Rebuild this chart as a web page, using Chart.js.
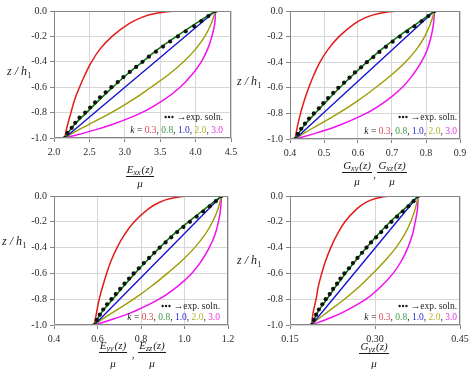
<!DOCTYPE html>
<html><head><meta charset="utf-8">
<script src="https://cdn.jsdelivr.net/npm/chart.js@4.4.0/dist/chart.umd.min.js"></script>
<style>
html,body{margin:0;padding:0;background:#fff;}
#wrap{position:relative;width:474px;height:378px;overflow:hidden;}
.p{position:absolute;width:237px;height:189px;}
</style></head><body>
<div id="wrap">
<div class="p" style="left:0;top:0"><canvas id="c1" width="237" height="189"></canvas></div>
<div class="p" style="left:237px;top:0"><canvas id="c2" width="237" height="189"></canvas></div>
<div class="p" style="left:0;top:189px"><canvas id="c3" width="237" height="189"></canvas></div>
<div class="p" style="left:237px;top:189px"><canvas id="c4" width="237" height="189"></canvas></div>
</div>
<script>
// ---- shared z / h1 levels (y values) ----
const zRed   = [-1,-0.9,-0.8,-0.7,-0.6,-0.5,-0.4,-0.3,-0.2,-0.1,-0.05,-0.02,0,0];
const zGreen = [-1,-0.9,-0.8,-0.7,-0.6,-0.5,-0.4,-0.3,-0.2,-0.1,0];
const zBlue  = [-1,0];
const zHigh  = [-1,-0.95,-0.9,-0.8,-0.7,-0.6,-0.5,-0.4,-0.3,-0.2,-0.1,0];
const zExp   = [-1,-0.96,-0.92,-0.88,-0.84,-0.8,-0.76,-0.72,-0.68,-0.64,-0.6,-0.56,-0.52,-0.48,-0.44,-0.4,-0.36,-0.32,-0.28,-0.24,-0.2,-0.16,-0.12,-0.08,-0.04,0];

// ---- panel 1: Exx(z)/mu ----
const exx_k03 = [2.15,2.19,2.24,2.29,2.36,2.44,2.53,2.65,2.82,3.06,3.24,3.43,3.73,4.28];
const exx_k08 = [2.15,2.28,2.46,2.64,2.83,3.03,3.25,3.47,3.73,4.00,4.28];
const exx_k10 = [2.15,4.28];
const exx_k20 = [2.15,2.30,2.47,2.81,3.11,3.37,3.62,3.83,4.00,4.13,4.22,4.28];
const exx_k30 = [2.15,2.49,2.79,3.24,3.55,3.78,3.95,4.08,4.17,4.23,4.27,4.28];
const exx_exp = [2.15,2.19,2.25,2.30,2.36,2.44,2.51,2.58,2.65,2.73,2.81,2.90,2.98,3.07,3.16,3.25,3.34,3.44,3.54,3.64,3.75,3.86,3.98,4.08,4.18,4.28];

// ---- panel 2: Gxy(z)/mu, Gxz(z)/mu ----
const gxy_k03 = [0.415,0.422,0.431,0.442,0.455,0.470,0.488,0.512,0.544,0.589,0.624,0.661,0.718,0.825];
const gxy_k08 = [0.415,0.440,0.474,0.509,0.546,0.585,0.626,0.669,0.718,0.772,0.825];
const gxy_k10 = [0.415,0.825];
const gxy_k20 = [0.415,0.444,0.477,0.542,0.600,0.651,0.698,0.739,0.772,0.796,0.813,0.825];
const gxy_k30 = [0.415,0.481,0.538,0.624,0.684,0.729,0.761,0.786,0.804,0.815,0.822,0.825];
const gxy_exp = [0.415,0.423,0.433,0.444,0.456,0.470,0.485,0.498,0.512,0.527,0.542,0.559,0.575,0.591,0.609,0.626,0.645,0.663,0.682,0.702,0.723,0.745,0.766,0.787,0.807,0.825];

// ---- panel 3: Eyy(z)/mu, Ezz(z)/mu ----
const eyy_k03 = [0.585,0.596,0.608,0.624,0.642,0.663,0.690,0.724,0.769,0.834,0.883,0.936,1.018,1.17];
const eyy_k08 = [0.585,0.620,0.670,0.720,0.772,0.828,0.886,0.948,1.018,1.094,1.17];
const eyy_k10 = [0.585,1.17];
const eyy_k20 = [0.585,0.626,0.673,0.766,0.848,0.921,0.989,1.047,1.094,1.129,1.154,1.17];
const eyy_k30 = [0.585,0.679,0.761,0.883,0.968,1.033,1.079,1.114,1.140,1.156,1.166,1.17];
const eyy_exp = [0.585,0.597,0.611,0.626,0.644,0.664,0.684,0.704,0.724,0.745,0.766,0.790,0.813,0.837,0.861,0.886,0.913,0.939,0.966,0.995,1.025,1.056,1.086,1.116,1.144,1.17];

// ---- panel 4: Gyz(z)/mu ----
const gyz_k03 = [0.188,0.191,0.196,0.200,0.206,0.213,0.222,0.233,0.247,0.268,0.284,0.301,0.327,0.376];
const gyz_k08 = [0.188,0.199,0.215,0.231,0.248,0.266,0.285,0.305,0.327,0.352,0.376];
const gyz_k10 = [0.188,0.376];
const gyz_k20 = [0.188,0.201,0.216,0.246,0.273,0.296,0.318,0.337,0.352,0.363,0.371,0.376];
const gyz_k30 = [0.188,0.218,0.244,0.284,0.311,0.332,0.347,0.358,0.366,0.371,0.375,0.376];
const gyz_exp = [0.188,0.192,0.196,0.201,0.207,0.213,0.220,0.226,0.233,0.239,0.246,0.254,0.261,0.269,0.277,0.285,0.293,0.302,0.311,0.320,0.329,0.339,0.349,0.359,0.368,0.376];

// ---- ticks and legend labels ----
const zTicks   = [-1,-0.8,-0.6,-0.4,-0.2,0];
const exxTicks = [2.0,2.5,3.0,3.5,4.0,4.5];
const gxyTicks = [0.4,0.5,0.6,0.7,0.8,0.9];
const eyyTicks = [0.4,0.6,0.8,1.0,1.2];
const gyzTicks = [0.15,0.30,0.45];
const kValues  = ['0.3','0.8','1.0','2.0','3.0'];
const expLabel = 'exp. soln.';

const lineColors = ['#e31b1b','#0a7a0a','#1414d2','#9c9c00','#f010f0'];
const textColors = ['#e0474f','#3c9a48','#2a2ad0','#b4b428','#e236e2'];

const SERIF = '"Liberation Serif","Times New Roman",serif';

function pts(xs, zs){ return xs.map((x,i)=>({x:x, y:zs[i]})); }

function makeChart(id, s, xr, xTicks, xDec, lay, deco){
  const ds = [
    {data:pts(s.exp,zExp), showLine:false, pointRadius:2.1, pointBackgroundColor:'#111', pointBorderWidth:0},
    {data:pts(s.k08,zGreen), borderColor:lineColors[1], borderWidth:1.6},
    {data:pts(s.k10,zBlue), borderColor:lineColors[2], borderWidth:1.4},
    {data:pts(s.k20,zHigh), borderColor:lineColors[3], borderWidth:1.4},
    {data:pts(s.k30,zHigh), borderColor:lineColors[4], borderWidth:1.5},
    {data:pts(s.k03,zRed), borderColor:lineColors[0], borderWidth:1.5}
  ];
  ds.forEach((d,i)=>{ if(i>0){ d.pointRadius=0; d.tension=0.4; d.fill=false; } });

  const deco_plugin = {
    id:'deco'+id,
    afterDraw(chart){
      const ctx = chart.ctx, a = chart.chartArea;
      ctx.save();
      ctx.strokeStyle = '#858585'; ctx.lineWidth = 1;
      const L=Math.round(a.left)+0.5, T=Math.round(a.top)+0.5, R=Math.round(a.right)-0.5, B=Math.round(a.bottom)-0.5;
      ctx.strokeRect(L,T,R-L,B-T);
      ctx.fillStyle = '#1a1a1a'; ctx.strokeStyle='#1a1a1a';
      ctx.textBaseline='middle'; ctx.textAlign='left';
      ctx.font = 'italic 12px '+SERIF;
      const t1 = 'z / h'; ctx.fillText(t1, deco.yt[0], deco.yt[1]);
      const w1 = ctx.measureText(t1).width;
      ctx.font = '8px '+SERIF; ctx.fillText('1', deco.yt[0]+w1+0.5, deco.yt[1]+4);
      deco.fracs.forEach(f=>{
        const big='italic 11px '+SERIF, small='italic 8px '+SERIF;
        ctx.font=big; const wL=ctx.measureText(f.l).width, wP=ctx.measureText('(z)').width;
        ctx.font=small; const wS=ctx.measureText(f.s).width;
        const w=wL+wS+wP+1; let x=f.cx-w/2;
        ctx.textAlign='left';
        ctx.font=big; ctx.fillText(f.l,x,deco.num); x+=wL;
        ctx.font=small; ctx.fillText(f.s,x,deco.num+3); x+=wS+1;
        ctx.font=big; ctx.fillText('(z)',x,deco.num);
        ctx.lineWidth=1; ctx.beginPath(); ctx.moveTo(Math.round(f.cx-w/2-1),deco.bar+0.5); ctx.lineTo(Math.round(f.cx+w/2+1),deco.bar+0.5); ctx.stroke();
        ctx.textAlign='center'; ctx.fillText('\u03bc',f.cx,deco.den);
      });
      if(deco.comma){ ctx.font='11px '+SERIF; ctx.textAlign='center'; ctx.fillText(',',deco.comma,deco.bar+3); }
      ctx.font='9.5px '+SERIF; ctx.textAlign='left';
      const arrowTxt=' \u2192'+expLabel;
      const wA=ctx.measureText(arrowTxt).width;
      let x1=deco.lg[0]-wA;
      ctx.fillStyle='#1a1a1a';
      ctx.fillText(arrowTxt,x1,deco.lg[1]);
      for(let i=0;i<3;i++){ ctx.beginPath(); ctx.arc(x1-2-i*3.4,deco.lg[1],1.2,0,Math.PI*2); ctx.fill(); }
      const pieces=[{t:'k',it:true,c:'#1a1a1a'},{t:' = ',c:'#1a1a1a'}];
      kValues.forEach((k,i)=>{ pieces.push({t:k,c:textColors[i]}); if(i<kValues.length-1) pieces.push({t:', ',c:'#1a1a1a'}); });
      let tw=0; pieces.forEach(p=>{ ctx.font=(p.it?'italic ':'')+'9.5px '+SERIF; p.w=ctx.measureText(p.t).width; tw+=p.w; });
      let x2=deco.lg[0]-tw;
      pieces.forEach(p=>{ ctx.font=(p.it?'italic ':'')+'9.5px '+SERIF; ctx.fillStyle=p.c; ctx.fillText(p.t,x2,deco.lg[2]); x2+=p.w; });
      ctx.restore();
    }
  };

  const tickFont = {family:SERIF, size:10};
  return new Chart(document.getElementById(id), {
    type:'line',
    data:{datasets:ds},
    options:{
      responsive:false, animation:false, events:[],
      layout:{padding:{left:0,right:lay.pr,top:lay.pt,bottom:0}},
      plugins:{legend:{display:false}, tooltip:{enabled:false}},
      scales:{
        x:{type:'linear', min:xr[0], max:xr[1],
          afterBuildTicks:sc=>{ sc.ticks = xTicks.map(v=>({value:v})); },
          afterFit:sc=>{ sc.height=lay.xh; sc.paddingLeft=0; sc.paddingRight=0; },
          ticks:{callback:v=>Number(v).toFixed(xDec), font:tickFont, color:'#2a2a2a', padding:4, maxRotation:0, autoSkip:false},
          grid:{color:'#d6d6d6', lineWidth:1, tickLength:4, tickColor:'#858585'},
          border:{display:false}},
        y:{type:'linear', min:-1, max:0,
          afterBuildTicks:sc=>{ sc.ticks = zTicks.map(v=>({value:v})); },
          afterFit:sc=>{ sc.width=lay.yw; sc.paddingTop=0; sc.paddingBottom=0; },
          ticks:{callback:v=>Number(v).toFixed(1), font:tickFont, color:'#2a2a2a', padding:3, autoSkip:false},
          grid:{color:'#d6d6d6', lineWidth:1, tickLength:4, tickColor:'#858585'},
          border:{display:false}}
      }
    },
    plugins:[deco_plugin]
  });
}

makeChart('c1', {k03:exx_k03,k08:exx_k08,k10:exx_k10,k20:exx_k20,k30:exx_k30,exp:exx_exp}, [2.0,4.5], exxTicks, 1,
  {pr:6, pt:11, yw:54, xh:51},
  {yt:[7,72], fracs:[{cx:140,l:'E',s:'xx'}], num:170, bar:176, den:184, lg:[223,117,130]});
makeChart('c2', {k03:gxy_k03,k08:gxy_k08,k10:gxy_k10,k20:gxy_k20,k30:gxy_k30,exp:gxy_exp}, [0.4,0.9], gxyTicks, 1,
  {pr:14, pt:11, yw:53, xh:50},
  {yt:[0,82], fracs:[{cx:120,l:'G',s:'xy'},{cx:155,l:'G',s:'xz'}], comma:137.5, num:166, bar:172, den:182, lg:[220,117,131]});
makeChart('c3', {k03:eyy_k03,k08:eyy_k08,k10:eyy_k10,k20:eyy_k20,k30:eyy_k30,exp:eyy_exp}, [0.4,1.2], eyyTicks, 1,
  {pr:9, pt:7, yw:54, xh:53},
  {yt:[2,53], fracs:[{cx:113,l:'E',s:'yy'},{cx:152,l:'E',s:'zz'}], comma:133, num:157, bar:163, den:175, lg:[220,117,128]});
makeChart('c4', {k03:gyz_k03,k08:gyz_k08,k10:gyz_k10,k20:gyz_k20,k30:gyz_k30,exp:gyz_exp}, [0.15,0.45], gyzTicks, 2,
  {pr:14, pt:7, yw:53, xh:53},
  {yt:[0,72], fracs:[{cx:137,l:'G',s:'yz'}], num:158, bar:164, den:175, lg:[220,117,128]});
</script>
</body></html>
